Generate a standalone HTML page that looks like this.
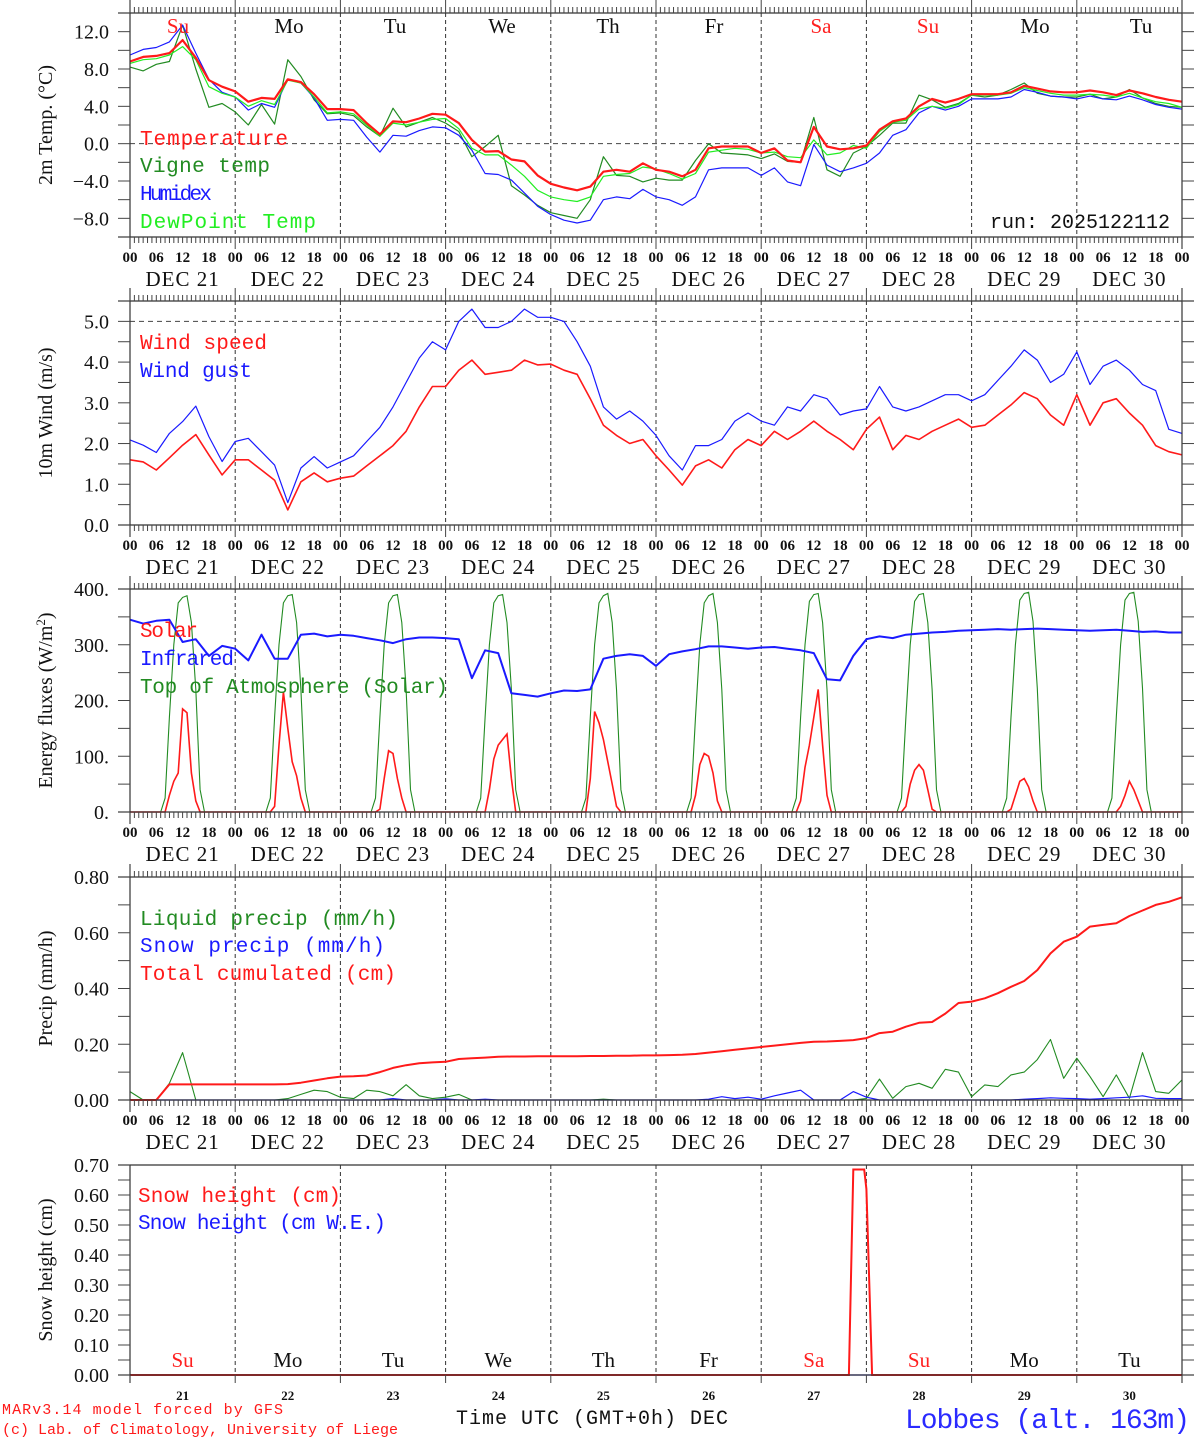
<!DOCTYPE html>
<html><head><meta charset="utf-8"><title>MAR meteogram Lobbes</title>
<style>
html,body{margin:0;padding:0;background:#fff;}
svg{display:block;}
text{font-family:"Liberation Serif",serif;}
.mono{font-family:"Liberation Mono",monospace;}
</style></head>
<body>
<svg id="chart" width="1194" height="1440" viewBox="0 0 1194 1440" xmlns="http://www.w3.org/2000/svg">
<rect x="0" y="0" width="1194" height="1440" fill="#fff"/>
<g id="grid"></g>
<g id="series"></g>
<g id="axes"></g>
<g id="labels">
  <text class="mono" x="140" y="145" font-size="21" textLength="148" fill="#ff1a1a">Temperature</text>
  <text class="mono" x="140" y="172" font-size="21" textLength="130" fill="#228b22">Vigne temp</text>
  <text class="mono" x="140" y="200" font-size="21" textLength="72" fill="#1a1aff">Humidex</text>
  <text class="mono" x="140" y="228" font-size="21" textLength="176" fill="#22ee22">DewPoint Temp</text>
  <text class="mono" x="990" y="228" font-size="20" textLength="180" fill="#111">run: 2025122112</text>
  <text class="mono" x="140" y="349" font-size="21" textLength="127" fill="#ff1a1a">Wind speed</text>
  <text class="mono" x="140" y="377" font-size="21" textLength="112" fill="#1a1aff">Wind gust</text>
  <text class="mono" x="140" y="637" font-size="21" textLength="58" fill="#ff1a1a">Solar</text>
  <text class="mono" x="140" y="665" font-size="21" textLength="94" fill="#1a1aff">Infrared</text>
  <text class="mono" x="140" y="693" font-size="21" textLength="308" fill="#228b22">Top of Atmosphere (Solar)</text>
  <text class="mono" x="140" y="925" font-size="21" textLength="258" fill="#228b22">Liquid precip (mm/h)</text>
  <text class="mono" x="140" y="952" font-size="21" textLength="245" fill="#1a1aff">Snow precip (mm/h)</text>
  <text class="mono" x="140" y="980" font-size="21" textLength="256" fill="#ff1a1a">Total cumulated (cm)</text>
  <text class="mono" x="138" y="1202" font-size="21" textLength="203" fill="#ff1a1a">Snow height (cm)</text>
  <text class="mono" x="138" y="1229" font-size="21" textLength="248" fill="#1a1aff">Snow height (cm W.E.)</text>
  <text class="mono" x="2" y="1414" font-size="15" textLength="281" fill="#ff1a1a">MARv3.14 model forced by GFS</text>
  <text class="mono" x="2" y="1434" font-size="15" textLength="396" fill="#ff1a1a">(c) Lab. of Climatology, University of Liege</text>
  <text class="mono" x="456" y="1424" font-size="20" textLength="272" fill="#111">Time UTC (GMT+0h) DEC</text>
  <text class="mono" x="905" y="1428" font-size="28" textLength="285" fill="#2a2aff">Lobbes (alt. 163m)</text>
</g>
</svg>
<script>
// ---------- data (3-hourly from Dec 21 00 UTC) ----------
const temperature = [8.8,9.3,9.4,9.7,11.1,9.2,6.8,6.1, 5.6,4.5,4.9,4.8,6.9,6.6,5.3,3.7, 3.7,3.6,2.2,1.0,2.4,2.3,2.7,3.2, 3.1,2.2,0.4,-0.85,-0.8,-1.7,-1.9,-3.4, -4.3,-4.7,-5.0,-4.6,-3.0,-2.8,-3.0,-2.1, -2.8,-3.0,-3.5,-2.8,-0.5,-0.3,-0.3,-0.3, -1.0,-0.5,-1.8,-2.0,1.8,-0.3,-0.6,-0.5, -0.2,1.5,2.4,2.7,4.0,4.8,4.4,4.8, 5.3,5.3,5.3,5.5,6.2,5.9,5.6,5.5, 5.5,5.7,5.5,5.2,5.7,5.4,5.0,4.7, 4.5];
const humidex = [9.5,10.1,10.3,10.9,12.7,9.7,6.9,5.5, 5.0,3.6,4.3,3.9,6.9,6.5,4.9,2.5, 2.6,2.5,0.7,-0.9,0.9,0.8,1.4,1.8, 1.7,0.9,-0.7,-3.2,-3.3,-3.9,-5.3,-6.7, -7.6,-8.2,-8.5,-8.2,-6.0,-5.7,-5.9,-4.9, -5.7,-6.0,-6.6,-5.7,-2.8,-2.6,-2.6,-2.6, -3.4,-2.6,-4.1,-4.5,-0.1,-2.3,-3.0,-2.6, -2.1,-1.0,0.9,1.5,3.3,4.0,3.6,4.0, 4.8,4.8,4.8,5.0,5.8,5.5,5.1,5.0, 4.8,5.1,4.8,4.7,5.1,4.7,4.2,3.9, 3.7];
const vigneTemp = [8.2,7.8,8.5,8.8,12.7,8.0,3.9,4.3, 3.4,2.0,4.2,2.1,9.0,7.2,4.7,3.2, 3.3,3.0,1.8,0.8,3.8,1.8,2.3,2.8, 2.2,1.3,-1.4,-0.3,0.9,-4.5,-5.5,-6.6, -7.4,-7.7,-8.0,-6.0,-1.4,-3.4,-3.5,-4.1, -3.7,-3.9,-3.9,-1.8,0.0,-1.0,-1.1,-1.2, -1.6,-1.1,-1.9,-2.0,2.8,-2.8,-3.5,-1.0, -0.3,0.9,2.2,2.2,5.2,4.7,3.9,4.3, 5.2,5.0,5.2,5.8,6.5,5.4,5.1,5.0, 5.0,5.3,4.8,5.0,5.8,4.9,4.3,4.0, 3.9];
const dewPoint = [8.6,9.0,9.1,9.5,10.4,9.0,6.1,5.4, 5.0,4.0,4.6,4.2,6.8,6.5,5.0,3.3, 3.4,3.2,2.0,0.8,2.2,2.0,2.3,2.6, 2.7,1.6,-0.5,-1.2,-1.2,-2.3,-3.5,-5.0, -5.7,-6.0,-6.2,-5.7,-3.5,-3.3,-3.2,-2.5, -2.7,-3.2,-3.8,-3.2,-0.9,-0.7,-0.5,-0.6, -1.0,-0.9,-1.4,-1.5,0.4,-1.2,-1.0,-0.2, -0.5,1.3,2.3,2.5,3.7,4.0,3.8,4.2, 5.2,5.2,5.2,5.4,6.0,5.7,5.4,5.2, 5.2,5.3,5.2,5.0,5.4,4.9,4.5,4.3, 3.9];
const windSpeed = [1.6,1.55,1.35,1.65,1.96,2.22,1.72,1.23, 1.6,1.6,1.35,1.1,0.37,1.06,1.28,1.06, 1.15,1.2,1.45,1.7,1.95,2.3,2.9,3.4, 3.4,3.8,4.05,3.7,3.75,3.8,4.05,3.93, 3.95,3.8,3.7,3.1,2.45,2.2,2.0,2.1, 1.7,1.35,0.98,1.45,1.6,1.4,1.85,2.1, 1.95,2.3,2.1,2.3,2.55,2.3,2.1,1.85, 2.35,2.65,1.85,2.2,2.1,2.3,2.45,2.6, 2.4,2.45,2.7,2.95,3.25,3.1,2.7,2.45, 3.2,2.45,3.0,3.1,2.75,2.45,1.95,1.8, 1.72];
const windGust = [2.09,1.96,1.78,2.25,2.54,2.92,2.17,1.56, 2.05,2.13,1.8,1.47,0.55,1.4,1.68,1.4, 1.55,1.7,2.05,2.4,2.9,3.5,4.1,4.5, 4.3,5.0,5.3,4.85,4.85,5.0,5.3,5.1, 5.1,5.0,4.5,3.9,2.9,2.6,2.8,2.55, 2.2,1.7,1.35,1.95,1.95,2.1,2.55,2.75, 2.55,2.45,2.9,2.8,3.2,3.1,2.7,2.8, 2.85,3.4,2.9,2.8,2.9,3.05,3.2,3.2, 3.05,3.2,3.55,3.9,4.3,4.05,3.5,3.7, 4.25,3.45,3.9,4.05,3.8,3.45,3.3,2.35, 2.25];
const infrared = [345,338,343,345,305,310,280,298, 293,272,318,275,275,318,320,315, 318,316,312,308,303,310,313,313, 312,310,240,290,285,213,210,207, 213,218,217,220,275,280,283,280, 262,283,288,292,297,297,295,293, 295,296,293,290,285,238,236,280, 310,315,312,318,320,322,323,325, 326,327,328,327,328,329,328,327, 326,325,326,327,325,323,324,322, 322];
const totalCumulated = [0,0,0,0.056,0.056,0.056,0.056,0.056, 0.056,0.056,0.056,0.056,0.057,0.062,0.07,0.078, 0.084,0.085,0.088,0.1,0.115,0.125,0.132,0.135, 0.137,0.147,0.15,0.152,0.155,0.156,0.156,0.157, 0.157,0.157,0.157,0.158,0.158,0.159,0.159,0.16, 0.16,0.161,0.162,0.165,0.17,0.175,0.18,0.185, 0.19,0.195,0.2,0.205,0.209,0.21,0.212,0.215, 0.222,0.24,0.245,0.263,0.277,0.28,0.31,0.348, 0.353,0.365,0.383,0.406,0.427,0.466,0.526,0.568, 0.586,0.622,0.628,0.634,0.66,0.68,0.70,0.711, 0.727];
const liquidPrecip = [0.03,0,0,0.06,0.17,0,0,0, 0,0,0,0,0.005,0.02,0.035,0.03, 0.01,0.005,0.035,0.03,0.015,0.055,0.015,0.005, 0.01,0.02,0,0,0,0,0,0, 0,0,0,0,0.003,0,0,0, 0,0,0,0,0,0,0,0, 0,0,0,0,0,0,0,0, 0.005,0.075,0.006,0.048,0.06,0.042,0.11,0.1, 0.012,0.054,0.048,0.09,0.1,0.145,0.217,0.078, 0.15,0.084,0.012,0.09,0.006,0.17,0.03,0.024, 0.072];
const snowPrecip = [0,0,0,0,0,0,0,0, 0,0,0,0,0,0,0,0, 0,0,0,0,0.005,0,0,0, 0.004,0,0,0.003,0,0,0,0, 0,0,0,0,0,0,0,0, 0,0,0,0,0.003,0.012,0.005,0.01, 0.003,0.015,0.025,0.035,0,0,0,0.03, 0.01,0,0,0,0,0,0,0, 0,0,0,0,0.003,0.005,0.008,0.006, 0.005,0.003,0.005,0.008,0.01,0.015,0.006,0.005, 0.005];
// solar fluxes: per day, hourly values from 07 to 17 UTC
const toaSolar = [
 [0,25,170,300,375,385,388,340,220,40,0],[0,25,170,300,375,388,390,340,220,40,0],[0,25,170,300,375,388,390,340,220,40,0],
 [0,25,170,300,375,388,390,340,220,40,0],[0,25,170,300,375,388,392,340,220,40,0],[0,25,170,300,375,388,392,340,220,40,0],
 [0,25,170,300,378,390,392,340,220,40,0],[0,25,170,300,378,390,392,340,220,40,0],[0,25,170,300,380,392,394,342,222,40,0],
 [0,25,170,300,380,392,394,342,222,40,0]];
const surfSolar = [
 [0,0,30,55,70,185,178,70,20,0,0],[0,0,10,120,215,150,90,65,25,0,0],[0,0,5,60,110,105,60,25,0,0,0],
 [0,0,0,40,95,120,130,140,60,0,0],[0,0,60,180,160,130,90,50,10,0,0],[0,0,30,85,105,100,70,20,0,0,0],
 [0,0,20,80,120,170,220,120,30,0,0],[0,0,10,50,75,85,75,40,5,0,0],[0,0,5,30,55,60,45,20,0,0,0],
 [0,0,0,10,30,55,40,20,0,0,0]];
const snowHours = [0,164,165,167.5,168,169.3,240];
const snowHeight = [0,0,0.685,0.685,0.62,0,0];
const dayNamesTop = ['Su','Mo','Tu','We','Th','Fr','Sa','Su','Mo','Tu'];
const dayNumbers = ['21','22','23','24','25','26','27','28','29','30'];
const hourLabels = ['00','06','12','18'];

// ---------- geometry ----------
const NS = 'http://www.w3.org/2000/svg';
const X0 = 130, X1 = 1182, HOURS = 240, STEP = 3;
function xOf(h){ return X0 + h*(X1-X0)/HOURS; }
const panels = [
 {key:'temp',top:13,bottom:237,min:-10,max:14,tick:2,lab:4,dec:1,suf:'',title:'2m Temp. (°C)',topTicks:true,hourLabels:true},
 {key:'wind',top:301,bottom:525,min:0,max:5.5,tick:0.5,lab:1,dec:1,suf:'',title:'10m Wind (m/s)',topTicks:true,hourLabels:true},
 {key:'flux',top:589,bottom:812,min:0,max:400,tick:50,lab:100,dec:0,suf:'.',title:'Energy fluxes (W/m',topTicks:true,hourLabels:true},
 {key:'precip',top:877,bottom:1100,min:0,max:0.8,tick:0.1,lab:0.2,dec:2,suf:'',title:'Precip (mm/h)',topTicks:true,hourLabels:true},
 {key:'snow',top:1165,bottom:1375,min:0,max:0.7,tick:0.05,lab:0.1,dec:2,suf:'',title:'Snow height (cm)',topTicks:false,hourLabels:false}
];
function yOf(p,v){ return p.bottom - (v-p.min)/(p.max-p.min)*(p.bottom-p.top); }
function mk(tag, attrs, parent){ const e=document.createElementNS(NS,tag); for(const k in attrs) e.setAttribute(k,attrs[k]); parent.appendChild(e); return e; }
const gGrid=document.getElementById('grid'), gSer=document.getElementById('series'), gAx=document.getElementById('axes');

panels.forEach(function(p){
  let el = mk('line',{x1:118,x2:1194,y1:p.top,y2:p.top,stroke:'#333','stroke-width':1.2},gAx);
  
  
  el = mk('line',{x1:118,x2:1194,y1:p.bottom,y2:p.bottom,stroke:'#333','stroke-width':1.2},gAx);
  
  
  el = mk('line',{x1:X0,x2:X0,y1:p.topTicks?p.top-13:p.top,y2:p.bottom+(p.hourLabels?12:8),stroke:'#333','stroke-width':1.2},gAx);
  
  
  el = mk('line',{x1:X1,x2:X1,y1:p.topTicks?p.top-13:p.top,y2:p.bottom+(p.hourLabels?12:8),stroke:'#333','stroke-width':1.2},gAx);
  
  
  for(let d=1; d<10; d++){
    el = mk('line',{x1:xOf(d*24),x2:xOf(d*24),y1:p.top,y2:p.bottom,stroke:'#333','stroke-width':1,'stroke-dasharray':'4,3'},gGrid);
    
    
  }
  for(let h=0; h<=HOURS; h++){
    const major = h%24===0;
    if(!p.hourLabels && !major) continue;
    if(p.topTicks){
      el = mk('line',{x1:xOf(h),x2:xOf(h),y1:p.top-(major?13:6),y2:p.top,stroke:'#444','stroke-width':1},gAx);
      
      
    }
    el = mk('line',{x1:xOf(h),x2:xOf(h),y1:p.bottom,y2:p.bottom+(major?(p.hourLabels?12:8):6),stroke:'#444','stroke-width':1},gAx);
    
    
  }
  if(p.hourLabels){
    for(let h=0; h<=HOURS; h+=6){
      el = mk('text',{x:xOf(h),y:p.bottom+25,'font-size':15,'text-anchor':'middle',fill:'#111','font-weight':'bold'},gAx);
      el.textContent = hourLabels[(h/6)%4];
      
      
    }
    for(let d=0; d<10; d++){
      el = mk('text',{x:xOf(d*24+12),y:p.bottom+49,'font-size':21,'text-anchor':'middle',fill:'#111','letter-spacing':'1'},gAx);
      el.textContent = 'DEC  '+dayNumbers[d];
      el.setAttribute('xml:space','preserve');
      
      
    }
  } else {
    for(let d=0; d<10; d++){
      el = mk('text',{x:xOf(d*24+12),y:p.bottom+25,'font-size':13,'text-anchor':'middle',fill:'#111','font-weight':'bold'},gAx);
      el.textContent = dayNumbers[d];
      
      
    }
  }
  const n = Math.round((p.max-p.min)/p.tick);
  for(let i=0;i<=n;i++){
    const v = p.min + i*p.tick;
    const y = yOf(p,v);
    el = mk('line',{x1:118,x2:X0,y1:y,y2:y,stroke:'#444','stroke-width':1},gAx);
    
    
    el = mk('line',{x1:X1,x2:1194,y1:y,y2:y,stroke:'#444','stroke-width':1},gAx);
    
    
    const r = v/p.lab;
    if(Math.abs(r-Math.round(r))<1e-6){
      el = mk('text',{x:109,y:y+7,'font-size':20,'text-anchor':'end',fill:'#111'},gAx);
      el.textContent = (v<0?'\u2212':'') + Math.abs(v).toFixed(p.dec) + p.suf;
      
      
    }
  }
  const cy = (p.top+p.bottom)/2;
  el = mk('text',{x:52,y:cy,'font-size':20,'text-anchor':'middle',fill:'#111',transform:'rotate(-90 52 '+cy+')'},gAx);
  el.textContent = p.title;
  if(p.key==='flux'){
    const s = mk('tspan',{'baseline-shift':'super','font-size':13},el); s.textContent='2';
    const c = mk('tspan',{},el); c.textContent=')';
  }
  
  
});

let ref = mk('line',{x1:X0,x2:X1,y1:yOf(panels[0],0),y2:yOf(panels[0],0),stroke:'#444','stroke-width':1,'stroke-dasharray':'5,4'},gGrid);


ref = mk('line',{x1:X0,x2:X1,y1:yOf(panels[1],5),y2:yOf(panels[1],5),stroke:'#444','stroke-width':1,'stroke-dasharray':'5,4'},gGrid);



const gLab=document.getElementById('labels');
const topNameX = [178,289,395,502,608,714,821,928,1035,1141];
for(let d=0; d<10; d++){
  const col = (dayNamesTop[d]==='Su'||dayNamesTop[d]==='Sa')?'#ff2020':'#111';
  let t = mk('text',{x:topNameX[d],y:33,'font-size':21,'text-anchor':'middle',fill:col},gLab);
  t.textContent = dayNamesTop[d];
  
  
  t = mk('text',{x:xOf(d*24+12),y:1367,'font-size':21,'text-anchor':'middle',fill:col},gLab);
  t.textContent = dayNamesTop[d];
  
  
}

function seriesPoints(p, arr){ return arr.map(function(v,i){ return xOf(i*STEP).toFixed(1)+','+yOf(p,v).toFixed(1); }).join(' '); }
function line(p, arr, color, w){
  return mk('polyline',{points:seriesPoints(p,arr),fill:'none',stroke:color,'stroke-width':w,'stroke-linejoin':'round'},gSer);
}
let s;
s = line(panels[0], vigneTemp, '#228b22', 1.2);


s = line(panels[0], humidex, '#1a1aff', 1.2);


s = line(panels[0], dewPoint, '#22ee22', 1.2);


s = line(panels[0], temperature, '#ff1a1a', 2.2);


s = line(panels[1], windGust, '#1a1aff', 1.2);


s = line(panels[1], windSpeed, '#ff1a1a', 1.6);



function solarPoints(p, days){
  const pts=[];
  for(let d=0; d<days.length; d++){
    for(let h=0; h<24; h++){
      const v = (h>=7 && h<=17) ? days[d][h-7] : 0;
      pts.push(xOf(d*24+h).toFixed(1)+','+yOf(p,v).toFixed(1));
    }
  }
  pts.push(xOf(240).toFixed(1)+','+yOf(p,0).toFixed(1));
  return pts.join(' ');
}
s = mk('polyline',{points:solarPoints(panels[2],toaSolar),fill:'none',stroke:'#228b22','stroke-width':1.1},gSer);


s = mk('polyline',{points:solarPoints(panels[2],surfSolar),fill:'none',stroke:'#ff1a1a','stroke-width':1.6},gSer);


s = line(panels[2], infrared, '#1a1aff', 2);



s = line(panels[3], liquidPrecip, '#228b22', 1.1);


s = line(panels[3], snowPrecip, '#1a1aff', 1.2);


s = line(panels[3], totalCumulated, '#ff1a1a', 2);



s = mk('line',{x1:X0,x2:X1,y1:yOf(panels[4],0),y2:yOf(panels[4],0),stroke:'#1a1aff','stroke-width':1.2},gSer);


s = mk('polyline',{points:snowHours.map(function(h,i){return xOf(h).toFixed(1)+','+yOf(panels[4],snowHeight[i]).toFixed(1);}).join(' '),fill:'none',stroke:'#ff1a1a','stroke-width':2},gSer);


</script>
</body></html>
